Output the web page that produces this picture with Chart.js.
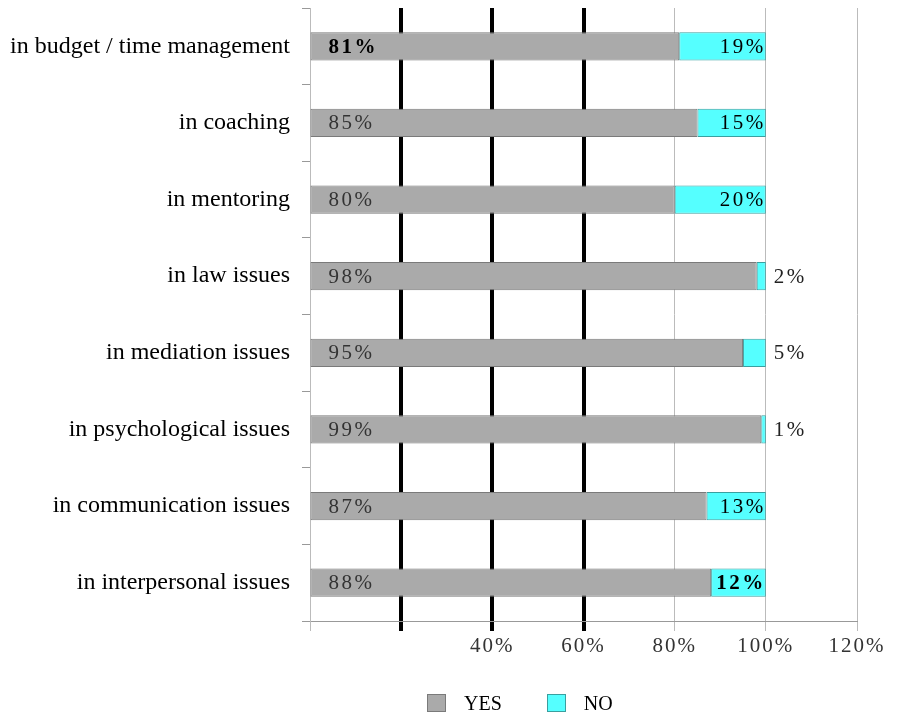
<!DOCTYPE html>
<html><head><meta charset="utf-8">
<script src="https://cdn.jsdelivr.net/npm/chart.js@4/dist/chart.umd.min.js"></script>
<style>
html,body{margin:0;padding:0;background:#fff;}
#wrap{position:relative;width:899px;height:717px;}
#legend{position:absolute;top:693px;left:427px;font-family:'Liberation Serif';font-size:20px;line-height:20px;color:#000;display:flex;align-items:center;}
.item{display:flex;align-items:center;margin-right:45px;}
.box{width:19px;height:18px;box-sizing:border-box;border:1px solid #888;margin-right:18px;}
</style></head>
<body><div id="wrap"><canvas id="c" width="899" height="717"></canvas><div id="legend"></div></div>
<script>
const categories = ['in budget / time management','in coaching','in mentoring','in law issues','in mediation issues','in psychological issues','in communication issues','in interpersonal issues'];
const seriesNames = ['YES','NO'];
const yesValues = [81,85,80,98,95,99,87,88];
const noValues = [19,15,20,2,5,1,13,12];
const tickLabels = ['', '', '40%', '60%', '80%', '100%', '120%'];

const colors = {
  yes: {fill:'#aaaaaa', border:'#7a7a7a'},
  no: {fill:'#55ffff', border:'#3a9f9f'}
};
const FONT = 'Liberation Serif';

const spacingPlugin = {
  id:'tickSpacing',
  beforeDraw(chart){
    const xs = chart.scales.x;
    if (xs && !xs._lsPatched) {
      const orig = xs.drawLabels.bind(xs);
      xs.drawLabels = function(a){ const c=this.ctx; c.save(); c.letterSpacing='2px'; orig(a); c.restore(); };
      xs._lsPatched = true;
    }
  }
};

const labelPlugin = {
  id:'barLabels',
  afterDatasetsDraw(chart){
    const ctx = chart.ctx;
    ctx.save();
    ctx.textBaseline = 'middle';
    ctx.letterSpacing = '2.5px';
    chart.data.datasets.forEach((ds,di)=>{
      const meta = chart.getDatasetMeta(di);
      meta.data.forEach((el,i)=>{
        const v = ds.data[i];
        const bold = (di===0 && i===0) || (di===1 && i===7);
        ctx.font = (bold?'bold ':'') + '21px "' + FONT + '"';
        const p = el.getProps(['x','y','base'], true);
        if (di===0) {
          ctx.fillStyle = bold ? '#000' : '#333';
          ctx.textAlign = 'left';
          ctx.fillText(v+'%', p.base+18, p.y+1);
        } else if (v >= 10) {
          ctx.fillStyle = '#000';
          ctx.textAlign = 'right';
          ctx.fillText(v+'%', p.x, p.y+1);
        } else {
          ctx.fillStyle = '#222';
          ctx.textAlign = 'left';
          ctx.fillText(v+'%', p.x+8, p.y+1);
        }
      });
    });
    ctx.restore();
  }
};

const chart = new Chart(document.getElementById('c'), {
  type:'bar',
  data:{
    labels: categories,
    datasets:[
      {label:seriesNames[0], data:yesValues, backgroundColor:colors.yes.fill, borderColor:colors.yes.border, borderWidth:1, borderSkipped:false},
      {label:seriesNames[1], data:noValues, backgroundColor:colors.no.fill, borderColor:colors.no.border, borderWidth:1, borderSkipped:false}
    ]
  },
  options:{
    indexAxis:'y',
    responsive:false,
    devicePixelRatio:1,
    animation:false,
    layout:{padding:{left:0, right:42, top:8, bottom:56}},
    datasets:{bar:{categoryPercentage:1, barPercentage:0.37}},
    plugins:{legend:{display:false}, tooltip:{enabled:false}},
    scales:{
      x:{
        stacked:true, min:0, max:120,
        afterFit(s){ s.height = 40; },
        ticks:{stepSize:20, color:'#333', padding:3, font:{family:FONT, size:21},
          callback:(v,i)=> tickLabels[i] !== undefined ? tickLabels[i] : ''},
        grid:{
          color:(c)=> { const v=c.tick && c.tick.value; return (v===20||v===40||v===60)?'#000':'#bbbbbb'; },
          lineWidth:(c)=> { const v=c.tick && c.tick.value; return (v===20||v===40||v===60)?4:1; },
          tickLength:10
        },
        border:{display:true, color:'#999', width:1}
      },
      y:{
        stacked:true,
        afterFit(s){ s.width = 310; s.paddingTop = 0; s.paddingBottom = 0; },
        ticks:{color:'#000', padding:12, font:{family:FONT, size:24}},
        grid:{offset:true, drawOnChartArea:false, tickLength:8, color:'#999'},
        border:{display:true, color:'#bbbbbb', width:1}
      }
    }
  },
  plugins:[spacingPlugin, labelPlugin]
});

const leg = document.getElementById('legend');
chart.data.datasets.forEach(ds=>{
  const it = document.createElement('div'); it.className='item';
  const b = document.createElement('span'); b.className='box';
  b.style.background = ds.backgroundColor; b.style.borderColor = ds.borderColor;
  const t = document.createElement('span'); t.textContent = ds.label;
  it.appendChild(b); it.appendChild(t); leg.appendChild(it);
});
</script>
</body></html>
